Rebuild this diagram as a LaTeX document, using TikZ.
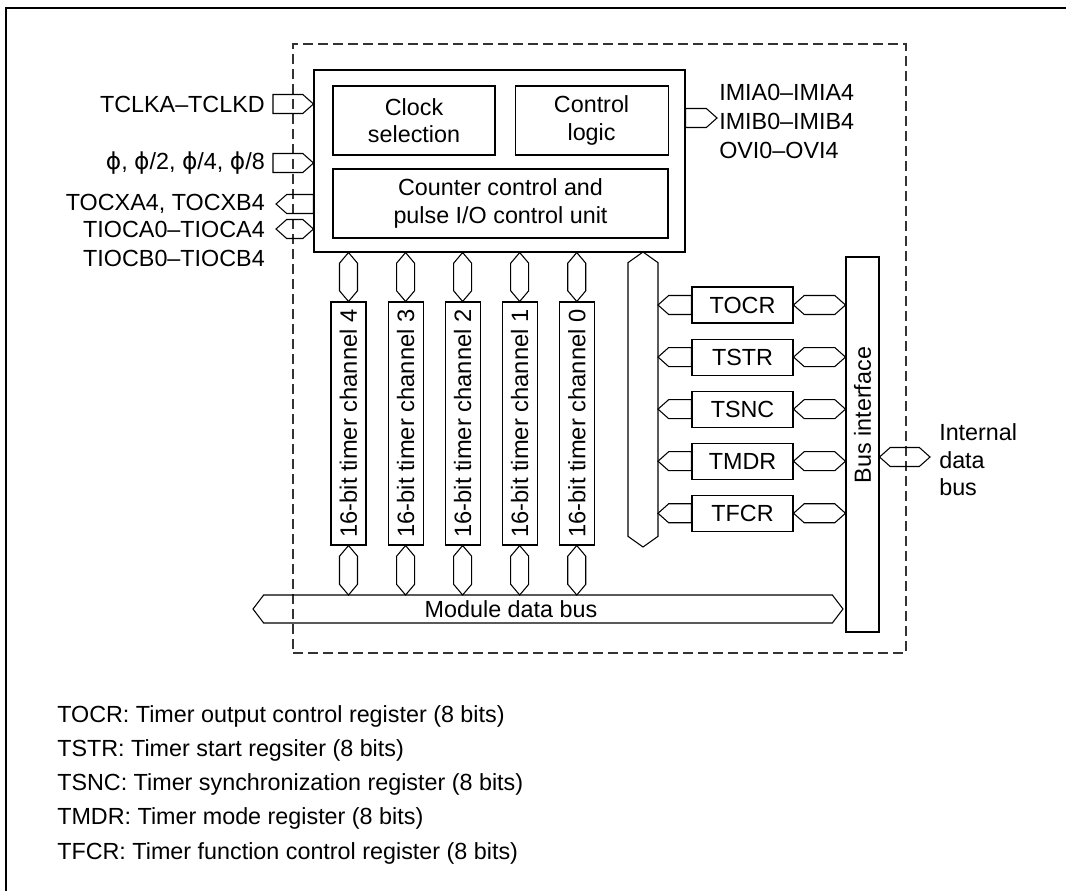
\documentclass[tikz,border=0pt]{standalone}
\usepackage{fontspec}
\setmainfont{Liberation Sans}
\newfontfamily\phifont{DejaVu Sans}
\usetikzlibrary{positioning, calc}

\newcommand{\lbl}{\fontsize{17.5}{20.5}\selectfont}
\newcommand{\phisym}{{\phifont ϕ}}
\newcommand{\tiplen}{8pt}
% hollow bus arrow with a tip at both ends
\newcommand{\busboth}[3]{\draw[bus] (#1) -- ($(#1)!\tiplen!(#2)+(#3)$) -- ($(#2)!\tiplen!(#1)+(#3)$) -- (#2) -- ($(#2)!\tiplen!(#1)-(#3)$) -- ($(#1)!\tiplen!(#2)-(#3)$) -- cycle;}
% hollow bus arrow, flat at #1, tip at #2
\newcommand{\busone}[3]{\draw[bus] ($(#1)+(#3)$) -- ($(#2)!\tiplen!(#1)+(#3)$) -- (#2) -- ($(#2)!\tiplen!(#1)-(#3)$) -- ($(#1)-(#3)$) -- cycle;}

\begin{document}
\begin{tikzpicture}[x=0.75pt, y=-0.75pt,
  block/.style={draw, line width=0.8pt, align=center, inner sep=0pt, font=\lbl},
  chan/.style={block, minimum width=26.25pt, minimum height=182.25pt, font=\fontsize{17.8}{21}\selectfont},
  reg/.style={block, minimum width=75.75pt, minimum height=27pt},
  bus/.style={draw, line width=0.8pt, line join=miter},
  txt/.style={inner sep=0pt, font=\lbl},
  tpuframe/.style={draw=black!80, line width=0.8pt, dash pattern=on 7.5pt off 3.75pt}
]
\useasboundingbox (0,0) rectangle (1066,891);
\draw[line width=1pt] (6,891) -- (6,8) -- (1066,8);

\node[tpuframe, minimum width=459.75pt, minimum height=456.75pt] (tpu) at (599.5,348.5) {};

% control part
\node[block, minimum width=278.25pt, minimum height=136.5pt] (ctl) at (499.5,161) {};
\node[block, minimum width=121.5pt, minimum height=51.75pt] (clk) at (414,120.5) {Clock\\selection};
\node[block, minimum width=114.75pt, minimum height=51.75pt, right=14.25pt of clk] (logic) {Control\\logic};
\node[block, minimum width=251.25pt, minimum height=51.75pt] (cnt) at (500.5,203.5) {Counter control and\\pulse I/O control unit};

% timer channels
\node[chan] (ch4) at (348.5,423.5) {\rotatebox{90}{16-bit timer channel 4}};
\node[chan, right=15.75pt of ch4] (ch3) {\rotatebox{90}{16-bit timer channel 3}};
\node[chan, right=15.75pt of ch3] (ch2) {\rotatebox{90}{16-bit timer channel 2}};
\node[chan, right=15.75pt of ch2] (ch1) {\rotatebox{90}{16-bit timer channel 1}};
\node[chan, right=15.75pt of ch1] (ch0) {\rotatebox{90}{16-bit timer channel 0}};

% registers
\node[reg] (tocr) at (742.5,305) {TOCR};
\node[reg, below=11.25pt of tocr] (tstr) {TSTR};
\node[reg, below=11.25pt of tstr] (tsnc) {TSNC};
\node[reg, below=11.25pt of tsnc] (tmdr) {TMDR};
\node[reg, below=11.25pt of tmdr] (tfcr) {TFCR};

\node[block, minimum width=24.75pt, minimum height=281.25pt] (bif) at (862.5,444.5) {};
\node[txt, rotate=90] (biftxt) at (862.5,415) {Bus interface};

% internal buses
\coordinate (vbtop) at (643,252);
\coordinate (vbbot) at (643,547);
\coordinate (vbedge) at (658,400);
\busboth{vbtop}{vbbot}{15,0}
\busone{tocr.west}{tocr.west -| vbedge}{0,9.5}
\busone{tstr.west}{tstr.west -| vbedge}{0,9.5}
\busone{tsnc.west}{tsnc.west -| vbedge}{0,9.5}
\busone{tmdr.west}{tmdr.west -| vbedge}{0,9.5}
\busone{tfcr.west}{tfcr.west -| vbedge}{0,9.5}
\busboth{tocr.east}{tocr.east -| bif.west}{0,9.5}
\busboth{tstr.east}{tstr.east -| bif.west}{0,9.5}
\busboth{tsnc.east}{tsnc.east -| bif.west}{0,9.5}
\busboth{tmdr.east}{tmdr.east -| bif.west}{0,9.5}
\busboth{tfcr.east}{tfcr.east -| bif.west}{0,9.5}

\coordinate (mdbw) at (253,609);
\coordinate (mdbe) at (843,609);
\coordinate (mdbtop) at (548,595);
\busboth{mdbw}{mdbe}{0,14}
\node[txt] (mdb) at (511,609) {Module data bus};

\busboth{ch4.north}{ch4.north |- ctl.south}{9,0}
\busboth{ch3.north}{ch3.north |- ctl.south}{9,0}
\busboth{ch2.north}{ch2.north |- ctl.south}{9,0}
\busboth{ch1.north}{ch1.north |- ctl.south}{9,0}
\busboth{ch0.north}{ch0.north |- ctl.south}{9,0}
\busboth{ch4.south}{ch4.south |- mdbtop}{9,0}
\busboth{ch3.south}{ch3.south |- mdbtop}{9,0}
\busboth{ch2.south}{ch2.south |- mdbtop}{9,0}
\busboth{ch1.south}{ch1.south |- mdbtop}{9,0}
\busboth{ch0.south}{ch0.south |- mdbtop}{9,0}

% pins on the left
\coordinate (tclk) at (273,104);
\busone{tclk}{tclk -| ctl.west}{0,9.5}
\node[txt, left=6pt of tclk] (tclklbl) {TCLKA–TCLKD};
\coordinate (phiin) at (273,163);
\busone{phiin}{phiin -| ctl.west}{0,9.5}
\node[txt, left=6pt of phiin] (philbl) {\phisym, \phisym/2, \phisym/4, \phisym/8};
\coordinate (tocx) at (276,204);
\busone{tocx -| ctl.west}{tocx}{0,9.5}
\node[txt, left=8.25pt of tocx] (tocxlbl) {TOCXA4, TOCXB4};
\coordinate (tioc) at (276,229);
\busboth{tioc}{tioc -| ctl.west}{0,9.5}
\node[txt, left=8.25pt of tioc] (tiocalbl) {TIOCA0–TIOCA4};
\node[txt, anchor=east] (tiocblbl) at (265,258) {TIOCB0–TIOCB4};

% interrupts and internal data bus
\coordinate (imi) at (717,118);
\busone{imi -| ctl.east}{imi}{0,9.5}
\node[txt, align=left, anchor=west, font=\fontsize{17.5}{21.4}\selectfont] (imilbl) at (719,121.5) {IMIA0–IMIA4\\IMIB0–IMIB4\\OVI0–OVI4};
\coordinate (idb) at (930,457);
\busboth{bif.east |- idb}{idb}{0,9.5}
\node[txt, align=left, anchor=west, font=\fontsize{17.5}{20.6}\selectfont] (idblbl) at (939,460) {Internal\\data\\bus};

% legend
\node[txt, anchor=west] (legtocr) at (57,716) {TOCR: Timer output control register (8 bits)};
\node[txt, anchor=west] (legtstr) at (57,750.3) {TSTR: Timer start regsiter (8 bits)};
\node[txt, anchor=west] (legtsnc) at (57,784.6) {TSNC: Timer synchronization register (8 bits)};
\node[txt, anchor=west] (legtmdr) at (57,818.9) {TMDR: Timer mode register (8 bits)};
\node[txt, anchor=west] (legtfcr) at (57,853.2) {TFCR: Timer function control register (8 bits)};
\end{tikzpicture}
\end{document}
